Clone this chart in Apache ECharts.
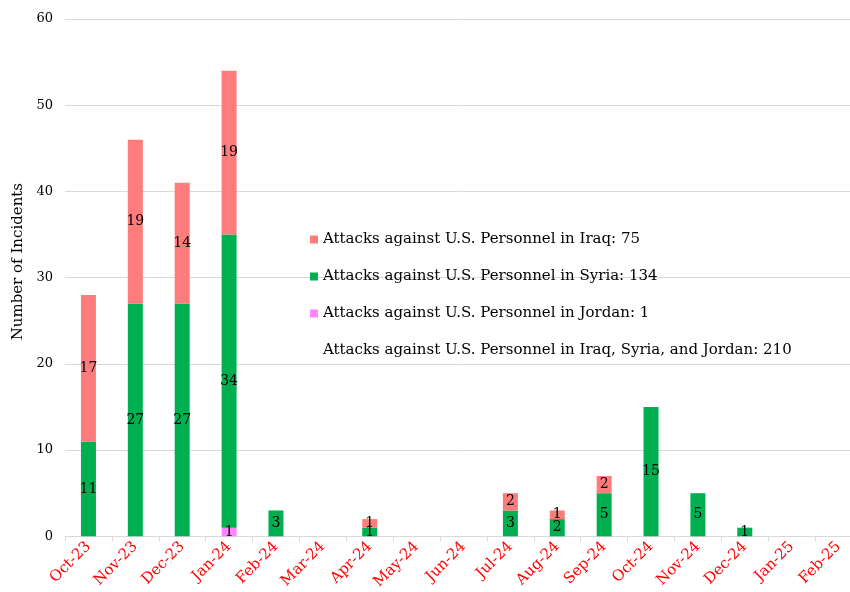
<!DOCTYPE html>
<html>
<head>
<meta charset="utf-8">
<script src="https://cdn.jsdelivr.net/npm/echarts@6/dist/echarts.min.js"></script>
<style>
  html, body { margin: 0; padding: 0; background: #fff; overflow: hidden; }
  #chart { width: 862px; height: 592px; }
</style>
</head>
<body>
<div id="chart"></div>
<script>
// months on the x axis
var months = ["Oct-23", "Nov-23", "Dec-23", "Jan-24", "Feb-24", "Mar-24", "Apr-24", "May-24",
  "Jun-24", "Jul-24", "Aug-24", "Sep-24", "Oct-24", "Nov-24", "Dec-24", "Jan-25", "Feb-25"];
// incidents per month (null = none)
var jordan = [null, null, null, 1, null, null, null, null, null, null, null, null, null, null, null, null, null];
var syria = [11, 27, 27, 34, 3, null, 1, null, null, 3, 2, 5, 15, 5, 1, null, null];
var iraq = [17, 19, 14, 19, null, null, 1, null, null, 2, 1, 2, null, null, null, null, null];

var nameIraq = "Attacks against U.S. Personnel in Iraq: 75";
var nameSyria = "Attacks against U.S. Personnel in Syria: 134";
var nameJordan = "Attacks against U.S. Personnel in Jordan: 1";
var nameTotal = "Attacks against U.S. Personnel in Iraq, Syria, and Jordan: 210";

var serif = "DejaVu Serif";

function barSeries(name, data, color) {
  return {
    name: name,
    type: "bar",
    stack: "all",
    barWidth: 15,
    data: data,
    itemStyle: { color: color },
    label: {
      show: true,
      position: "inside",
      color: "#000",
      fontFamily: serif,
      fontSize: 14
    }
  };
}

// the last month runs past the right edge of the picture, so the chart is a bit wider than the window
var myChart = echarts.init(document.getElementById("chart"));
var option = {
  animation: false,
  grid: { left: 65, right: 0, top: 19, bottom: 54 },
  legend: {
    orient: "vertical",
    left: 305,
    top: 227,
    itemWidth: 8,
    itemHeight: 8,
    itemGap: 22,
    textStyle: { fontFamily: serif, fontSize: 15, color: "#000" },
    data: [
      { name: nameIraq, icon: "rect" },
      { name: nameSyria, icon: "rect" },
      { name: nameJordan, icon: "rect" },
      { name: nameTotal, icon: "none" }
    ],
    selectedMode: false
  },
  xAxis: {
    type: "category",
    data: months,
    axisLine: { lineStyle: { color: "#d9d9d9" } },
    axisTick: { show: true, lineStyle: { color: "#d9d9d9" }, length: 5 },
    axisLabel: {
      rotate: 45,
      interval: 0,
      color: "#ff0000",
      fontFamily: serif,
      fontSize: 15,
      margin: 8
    }
  },
  yAxis: {
    type: "value",
    min: 0,
    max: 60,
    interval: 10,
    name: "Number of Incidents",
    nameLocation: "middle",
    nameGap: 39,
    nameTextStyle: { fontFamily: serif, fontSize: 15, color: "#000", padding: [0, 0, 0, 32] },
    axisLine: { show: false },
    axisTick: { show: false },
    splitLine: { lineStyle: { color: "#d9d9d9" } },
    axisLabel: { color: "#000", fontFamily: serif, fontSize: 13, margin: 12 }
  },
  series: [
    barSeries(nameJordan, jordan, "#ff85ff"),
    barSeries(nameSyria, syria, "#00b050"),
    barSeries(nameIraq, iraq, "#ff7c7c"),
    { name: nameTotal, type: "bar", stack: "all", data: [], itemStyle: { color: "transparent" } }
  ]
};
myChart.setOption(option);
</script>
</body>
</html>
